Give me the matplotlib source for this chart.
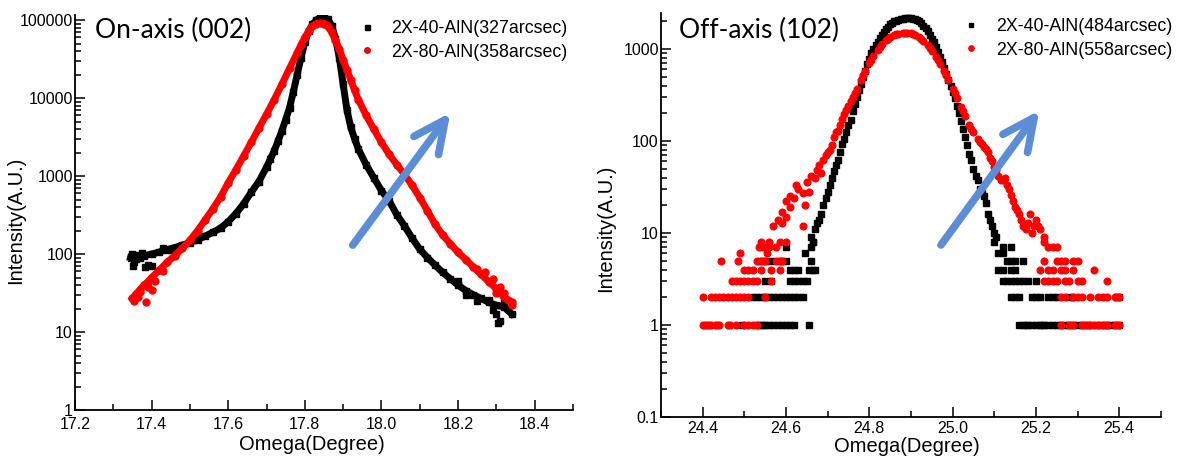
import numpy as np
import matplotlib.pyplot as plt
from matplotlib.ticker import LogLocator, MultipleLocator, FuncFormatter, NullFormatter

plt.rcParams['font.family'] = ['Liberation Sans', 'DejaVu Sans']

# ---------------- on-axis (002) rocking curves ----------------
on_x_40 = [17.345, 17.36, 17.38, 17.40, 17.42, 17.44, 17.46, 17.48, 17.50, 17.52,
           17.54, 17.56, 17.58, 17.60, 17.62, 17.64, 17.66, 17.68, 17.70, 17.71,
           17.72, 17.73, 17.74, 17.75, 17.76, 17.77, 17.78, 17.79, 17.80, 17.81,
           17.82, 17.83, 17.84, 17.85, 17.86, 17.87, 17.88, 17.89, 17.90, 17.91,
           17.92, 17.93, 17.94, 17.96, 17.98, 18.00, 18.02, 18.04, 18.06, 18.08,
           18.10, 18.12, 18.14, 18.16, 18.18, 18.20, 18.22, 18.24, 18.26, 18.28,
           18.30, 18.32, 18.34]
on_y_40 = [90, 86, 95, 100, 106, 114, 121, 130, 140, 152,
           170, 190, 215, 260, 330, 440, 620, 850, 1300, 1650,
           2100, 2800, 3800, 5300, 7500, 12000, 20000, 33000, 52000, 72000,
           88000, 100000, 107000, 108000, 102000, 85000, 58000, 33000, 15000, 7000,
           4200, 3000, 2200, 1400, 950, 650, 480, 320, 230, 160,
           115, 90, 72, 58, 48, 40, 34, 30, 27, 24,
           22, 21, 17]
on_nx_40 = [17.35, 17.352, 17.355, 17.365, 17.37, 17.375, 17.384, 17.39, 17.401, 17.43,
            17.45, 18.20, 18.22, 18.25, 18.28, 18.29, 18.30, 18.305, 18.31, 18.32, 18.33]
on_ny_40 = [100, 70, 80, 98, 88, 103, 68, 72, 70, 118,
            112, 45, 30, 25, 26, 19, 17, 13, 14, 25, 20]

on_x_80 = [17.35, 17.36, 17.37, 17.38, 17.39, 17.40, 17.42, 17.44, 17.46, 17.48,
           17.50, 17.52, 17.54, 17.56, 17.58, 17.60, 17.62, 17.64, 17.66, 17.68,
           17.70, 17.72, 17.74, 17.76, 17.78, 17.79, 17.80, 17.81, 17.82, 17.83,
           17.84, 17.85, 17.86, 17.87, 17.88, 17.89, 17.90, 17.91, 17.92, 17.93,
           17.94, 17.96, 17.98, 18.00, 18.02, 18.04, 18.06, 18.08, 18.10, 18.12,
           18.14, 18.16, 18.18, 18.20, 18.22, 18.24, 18.26, 18.28, 18.30, 18.32,
           18.34]
on_y_80 = [27, 31, 35, 40, 44, 50, 62, 78, 95, 118,
           150, 200, 275, 380, 540, 820, 1200, 1800, 2700, 4100,
           6200, 9500, 15000, 24000, 38000, 48000, 60000, 72000, 83000, 90000,
           92000, 90000, 83000, 70000, 55000, 42000, 31000, 23000, 17000, 12500,
           9500, 6000, 4000, 2700, 1900, 1400, 1050, 760, 530, 360,
           240, 175, 135, 105, 85, 68, 55, 44, 36, 28,
           24]
on_nx_80 = [17.355, 17.365, 17.37, 17.385, 17.39, 17.40, 17.41, 17.43,
            18.25, 18.27, 18.29, 18.30, 18.31, 18.32, 18.33, 18.34]
on_ny_80 = [25, 28, 33, 24, 38, 35, 45, 60,
            65, 58, 48, 32, 38, 32, 26, 22]

# ---------------- off-axis (102) rocking curves ----------------
off_x_40 = [24.66, 24.665, 24.67, 24.675, 24.68, 24.685, 24.69, 24.695, 24.70, 24.705,
            24.71, 24.715, 24.72, 24.725, 24.73, 24.735, 24.74, 24.745, 24.75, 24.755,
            24.76, 24.765, 24.77, 24.775, 24.78, 24.785, 24.79, 24.795, 24.80, 24.805,
            24.81, 24.815, 24.82, 24.825, 24.83, 24.835, 24.84, 24.845, 24.85, 24.855,
            24.86, 24.865, 24.87, 24.875, 24.88, 24.885, 24.89, 24.895, 24.90, 24.905,
            24.91, 24.915, 24.92, 24.925, 24.93, 24.935, 24.94, 24.945, 24.95, 24.955,
            24.96, 24.965, 24.97, 24.975, 24.98, 24.985, 24.99, 24.995, 25.00, 25.005,
            25.01, 25.015, 25.02, 25.025, 25.03, 25.035, 25.04, 25.045, 25.05, 25.055,
            25.06, 25.065, 25.07, 25.075, 25.08, 25.085, 25.09, 25.095, 25.10, 25.105]
off_y_40 = [9, 8, 11, 13, 14, 16, 20, 24, 28, 33,
            40, 47, 55, 62, 75, 92, 105, 125, 150, 170,
            210, 255, 300, 360, 420, 500, 580, 680, 780, 900,
            1000, 1100, 1200, 1320, 1430, 1540, 1650, 1750, 1850, 1930,
            2000, 2040, 2080, 2100, 2130, 2150, 2150, 2160, 2150, 2140,
            2120, 2060, 2000, 1900, 1800, 1680, 1550, 1420, 1300, 1180,
            1050, 930, 820, 720, 620, 540, 460, 400, 340, 290,
            240, 200, 165, 135, 110, 90, 72, 62, 50, 42,
            38, 30, 27, 25, 21, 16, 14, 12, 10, 9]

# counting-noise tails: x positions for each integer count level
tail_lvl_40 = [1, 2, 3, 4, 5, 6, 7, 8]
tail_x_40 = [
    [24.495, 24.53, 24.54, 24.545, 24.55, 24.56, 24.57, 24.58, 24.59, 24.60, 24.61, 24.62,
     24.655, 25.16, 25.17, 25.175, 25.18, 25.19, 25.20, 25.21, 25.215, 25.22, 25.23,
     25.24, 25.25, 25.26, 25.27, 25.28, 25.29, 25.30, 25.31, 25.32, 25.33, 25.35, 25.36,
     25.37, 25.38, 25.39, 25.40],
    [24.52, 24.53, 24.54, 24.55, 24.56, 24.57, 24.58, 24.59, 24.60, 24.61, 24.62, 24.63,
     24.64, 25.14, 25.15, 25.16, 25.19, 25.20, 25.21, 25.23, 25.24, 25.25, 25.28, 25.29,
     25.395, 25.40],
    [24.55, 24.565, 24.61, 24.62, 24.63, 24.64, 24.65, 25.12, 25.13, 25.14, 25.15, 25.16,
     25.17, 25.18, 25.20],
    [24.61, 24.62, 24.63, 24.655, 24.665, 24.67, 25.11, 25.12, 25.14, 25.15],
    [24.54, 24.55, 24.565, 24.585, 24.60, 24.66, 25.13, 25.14, 25.15, 25.17],
    [24.645, 25.11, 25.12],
    [24.60, 24.66, 25.12, 25.14],
    [24.665, 25.10],
]

off_x_80 = [24.57, 24.58, 24.59, 24.60, 24.61, 24.62, 24.63, 24.64, 24.65, 24.66,
            24.67, 24.68, 24.69, 24.70, 24.71, 24.72, 24.73, 24.74, 24.75, 24.76,
            24.77, 24.78, 24.79, 24.80, 24.81, 24.82, 24.83, 24.84, 24.85, 24.86,
            24.87, 24.88, 24.89, 24.90, 24.91, 24.92, 24.93, 24.94, 24.95, 24.96,
            24.97, 24.98, 24.99, 25.00, 25.01, 25.02, 25.03, 25.04, 25.05, 25.06,
            25.07, 25.08, 25.09, 25.10, 25.11, 25.12, 25.13, 25.14, 25.15, 25.16,
            25.17, 25.18, 25.19, 25.20, 25.21, 25.22,
            24.59, 24.60, 24.61, 24.625, 24.64, 24.645, 24.655, 24.675, 24.685, 24.695,
            24.705, 24.715, 24.725, 24.735, 24.745, 24.755, 24.765, 24.785, 24.805, 24.825,
            24.845, 24.865, 24.885, 24.905, 24.925, 24.945, 24.965, 24.985, 25.005, 25.025,
            25.045, 25.065, 25.075, 25.085, 25.095, 25.105, 25.115, 25.125, 25.135, 25.145,
            25.155, 25.165, 25.175, 25.185, 25.195, 25.205]
off_y_80 = [12, 14, 17, 22, 19, 24, 30, 27, 36, 42,
            40, 55, 62, 75, 90, 125, 150, 195, 240, 300,
            370, 460, 580, 700, 830, 980, 1120, 1250, 1350, 1420,
            1470, 1490, 1500, 1480, 1430, 1340, 1230, 1100, 950, 810,
            690, 570, 460, 370, 295, 235, 185, 150, 125, 105,
            92, 82, 65, 52, 42, 38, 33, 26, 19, 16,
            12, 13, 10, 14, 11, 9,
            13, 15, 25, 33, 12, 20, 28, 48, 45, 70,
            80, 110, 130, 175, 215, 270, 335, 520, 760, 1050,
            1300, 1450, 1495, 1460, 1290, 1020, 750, 520, 330, 210,
            135, 98, 85, 75, 60, 48, 38, 40, 30, 22,
            18, 14, 11, 16, 12, 12]

tail_lvl_80 = [1, 2, 3, 4, 5, 6, 7, 8]
tail_x_80 = [
    [24.40, 24.405, 24.41, 24.415, 24.42, 24.43, 24.435, 24.44, 24.46, 24.465, 24.48,
     24.50, 24.51, 24.52, 24.53, 25.26, 25.28, 25.29, 25.31, 25.32, 25.33, 25.34, 25.35,
     25.36, 25.37, 25.39, 25.40],
    [24.40, 24.42, 24.43, 24.44, 24.45, 24.46, 24.47, 24.48, 24.49, 24.50, 24.51, 24.55,
     25.26, 25.27, 25.29, 25.30, 25.31, 25.33, 25.35, 25.36, 25.37, 25.39, 25.40],
    [24.47, 24.48, 24.49, 24.50, 24.51, 24.52, 24.53, 24.565, 25.22, 25.23, 25.24, 25.25,
     25.27, 25.28, 25.30, 25.31, 25.37],
    [24.50, 24.51, 24.52, 24.54, 24.565, 24.585, 25.21, 25.23, 25.24, 25.26, 25.27,
     25.29, 25.34],
    [24.445, 24.485, 24.53, 24.54, 24.55, 24.575, 24.585, 24.59, 25.22, 25.25, 25.26,
     25.27, 25.29, 25.30],
    [24.49, 24.555],
    [24.535, 24.545, 24.56, 24.575, 25.23, 25.24, 25.25],
    [24.54, 24.56, 24.585, 24.60, 25.22],
]

labels_on = ['2X-40-AlN(327arcsec)', '2X-80-AlN(358arcsec)']
labels_off = ['2X-40-AlN(484arcsec)', '2X-80-AlN(558arcsec)']

arrow_blue = '#5B8ED6'

fig = plt.figure(figsize=(11.79, 4.57), dpi=100)
ax1 = fig.add_axes([0.0636, 0.1028, 0.4224, 0.8643])
ax2 = fig.add_axes([0.5606, 0.0875, 0.4241, 0.884])

# left: dense scans -> drawn as thick traces of markers
ax1.plot(on_x_40, on_y_40, '-', color='k', lw=5, marker='s', ms=4.5)
ax1.plot(on_nx_40, on_ny_40, 's', color='k', ms=4.5, label=labels_on[0])
ax1.plot(on_x_80, on_y_80, '-', color='r', lw=5, marker='o', ms=5)
ax1.plot(on_nx_80, on_ny_80, 'o', color='r', ms=5, label=labels_on[1])

# right: sparse points
tx40, ty40 = [], []
for lv, xs in zip(tail_lvl_40, tail_x_40):
    tx40 += xs
    ty40 += [lv] * len(xs)
tx80, ty80 = [], []
for lv, xs in zip(tail_lvl_80, tail_x_80):
    tx80 += xs
    ty80 += [lv] * len(xs)

ax2.plot(off_x_40 + tx40, off_y_40 + ty40, 's', color='k', ms=4.2, label=labels_off[0])
ax2.plot(off_x_80 + tx80, off_y_80 + ty80, 'o', color='r', ms=4.8, label=labels_off[1])

ax1.set_xlim(17.2, 18.5)
ax1.set_ylim(1, 1.16e5)
ax2.set_xlim(24.3, 25.5)
ax2.set_ylim(0.1, 2460)

for ax in (ax1, ax2):
    ax.set_yscale('log')
    ax.yaxis.set_major_locator(LogLocator(base=10, numticks=12))
    ax.yaxis.set_minor_locator(LogLocator(base=10, subs=np.arange(2, 10), numticks=12))
    ax.yaxis.set_major_formatter(FuncFormatter(lambda v, p: '%g' % v))
    ax.yaxis.set_minor_formatter(NullFormatter())
    ax.xaxis.set_major_locator(MultipleLocator(0.2))
    ax.xaxis.set_minor_locator(MultipleLocator(0.1))
    ax.xaxis.set_major_formatter(FuncFormatter(lambda v, p: '%.1f' % v))
    ax.spines['top'].set_visible(False)
    ax.spines['right'].set_visible(False)
    ax.spines['left'].set_linewidth(1.3)
    ax.spines['bottom'].set_linewidth(1.3)
    ax.tick_params(which='both', direction='in', labelsize=11.5, width=1.1)
    ax.tick_params(which='major', length=7)
    ax.tick_params(which='minor', length=4)
    ax.tick_params(axis='y', pad=1.5)
    ax.set_xlabel('Omega(Degree)', fontsize=14.5)
    ax.set_ylabel('Intensity(A.U.)', fontsize=14.5)

ax1.tick_params(axis='x', pad=5)
ax2.tick_params(axis='x', pad=3)

ax1.xaxis.set_label_coords(0.476, -0.064)
ax1.yaxis.set_label_coords(-0.1, 0.48)
ax2.xaxis.set_label_coords(0.492, -0.05)
ax2.yaxis.set_label_coords(-0.092, 0.468)

ax1.text(0.04, 0.962, 'On-axis (002)', transform=ax1.transAxes, fontsize=19,
         family='Lato', va='center')
ax2.text(0.036, 0.958, 'Off-axis (102)', transform=ax2.transAxes, fontsize=19,
         family='Lato', va='center')

arrow_style = dict(arrowstyle='->,head_length=1.15,head_width=0.55', lw=5.5,
                   color=arrow_blue, mutation_scale=20, shrinkA=0, shrinkB=0)
ax1.annotate('', xy=(18.18, 6500), xytext=(17.925, 130), arrowprops=arrow_style)
ax2.annotate('', xy=(25.208, 215), xytext=(24.972, 7.4), arrowprops=arrow_style)

ax1.legend(loc='upper right', bbox_to_anchor=(1.0, 1.0), frameon=False, fontsize=12.8,
           handlelength=1.0, handletextpad=0.9, labelspacing=0.35, borderaxespad=0,
           borderpad=0.3, markerscale=0.8)
ax2.legend(loc='upper right', bbox_to_anchor=(1.034, 1.0), frameon=False, fontsize=12.8,
           handlelength=1.0, handletextpad=0.9, labelspacing=0.35, borderaxespad=0,
           borderpad=0.3, markerscale=0.8)

fig.savefig('out.png', dpi=100)
